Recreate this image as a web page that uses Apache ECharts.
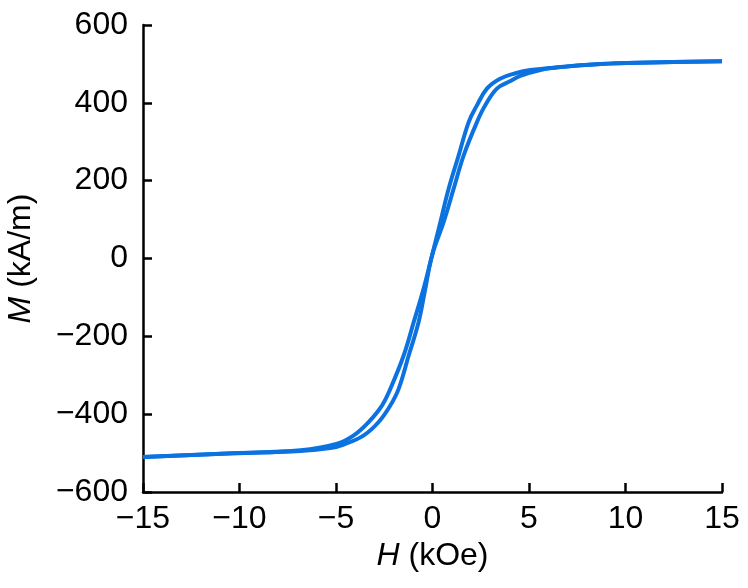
<!DOCTYPE html>
<html>
<head>
<meta charset="utf-8">
<script src="https://cdn.jsdelivr.net/npm/echarts@6/dist/echarts.min.js"></script>
<style>
  html, body { margin: 0; padding: 0; background: #fff; }
  #main { width: 748px; height: 588px; }
</style>
</head>
<body>
<div id="main"></div>
<script>
// 下降支 (H 从 +15 到 -15)
const downH = [15, 11.29, 8.70, 6.63, 5.07, 4.30, 3.50, 2.83, 2.31, 1.88, 1.36, 0.84, 0.41, -0.02, -0.46, -0.97, -1.49, -2.18, -2.61, -3.31, -4.08, -4.94, -6.84, -10.32, -15]
const downM = [507, 503.5, 499.6, 491.9, 484.2, 476, 462, 437.1, 394.2, 351.2, 265.6, 180, 94.1, 8.5, -77.1, -163, -248.6, -334.3, -377.2, -420.2, -454.4, -475.7, -493, -500.6, -510]

// 上升支 (H 从 -15 到 +15)
const upH = [-15, -10.32, -6.84, -5.29, -4.60, -3.56, -2.79, -2.18, -1.75, -1.23, -0.72, -0.37, -0.02, 0.58, 1.10, 1.62, 2.31, 2.74, 3.35, 4.04, 4.55, 5.59, 6.63, 8.70, 11.29, 15]
const upM = [-510, -500.6, -494.5, -487, -478, -454.4, -420.2, -377.2, -334.3, -248.6, -163, -77.1, 8.5, 94.1, 180, 265.6, 351.2, 394.2, 437.1, 456, 469, 484.2, 491.9, 499.6, 503.5, 507]

const xTicks = [-15, -10, -5, 0, 5, 10, 15]
const yTicks = [-600, -400, -200, 0, 200, 400, 600]

const lineColor = '#0b72e0'
const font = 'Liberation Sans, Arial, sans-serif'

function zip(a, b) {
  return a.map((v, i) => [v, b[i]])
}

function minus(v) {
  return String(v).replace('-', '\u2212')
}

var myChart = echarts.init(document.getElementById('main'))
var option = {
  animation: false,
  grid: { left: 143, right: 26, top: 25, bottom: 96, containLabel: false, outerBoundsMode: 'none' },
  xAxis: {
    type: 'value',
    min: xTicks[0],
    max: xTicks[xTicks.length - 1],
    interval: 5,
    name: '{i|H} (kOe)',
    nameLocation: 'middle',
    nameGap: 46,
    nameTextStyle: {
      fontFamily: font,
      fontSize: 32,
      color: '#000',
      rich: { i: { fontFamily: font, fontSize: 32, fontStyle: 'italic', color: '#000' } }
    },
    axisLine: { onZero: false, lineStyle: { color: '#000', width: 2.5 } },
    axisTick: { inside: true, length: 9, lineStyle: { color: '#000', width: 2.5 } },
    axisLabel: { fontFamily: font, fontSize: 32, color: '#000', margin: 11, formatter: minus },
    splitLine: { show: false }
  },
  yAxis: {
    type: 'value',
    min: yTicks[0],
    max: yTicks[yTicks.length - 1],
    interval: 200,
    name: '{i|M} (kA/m)',
    nameLocation: 'middle',
    nameRotate: 90,
    nameGap: 106,
    nameTextStyle: {
      fontFamily: font,
      fontSize: 32,
      color: '#000',
      rich: { i: { fontFamily: font, fontSize: 32, fontStyle: 'italic', color: '#000' } }
    },
    axisLine: { show: true, onZero: false, lineStyle: { color: '#000', width: 2.5 } },
    axisTick: { show: true, inside: true, length: 9, lineStyle: { color: '#000', width: 2.5 } },
    axisLabel: { fontFamily: font, fontSize: 32, color: '#000', margin: 15, formatter: minus },
    splitLine: { show: false }
  },
  series: [
    {
      name: 'descending',
      type: 'line',
      data: zip(downH, downM),
      smooth: 0.4,
      showSymbol: false,
      lineStyle: { color: lineColor, width: 4 }
    },
    {
      name: 'ascending',
      type: 'line',
      data: zip(upH, upM),
      smooth: 0.4,
      showSymbol: false,
      lineStyle: { color: lineColor, width: 4 }
    }
  ]
}
option && myChart.setOption(option)
</script>
</body>
</html>
